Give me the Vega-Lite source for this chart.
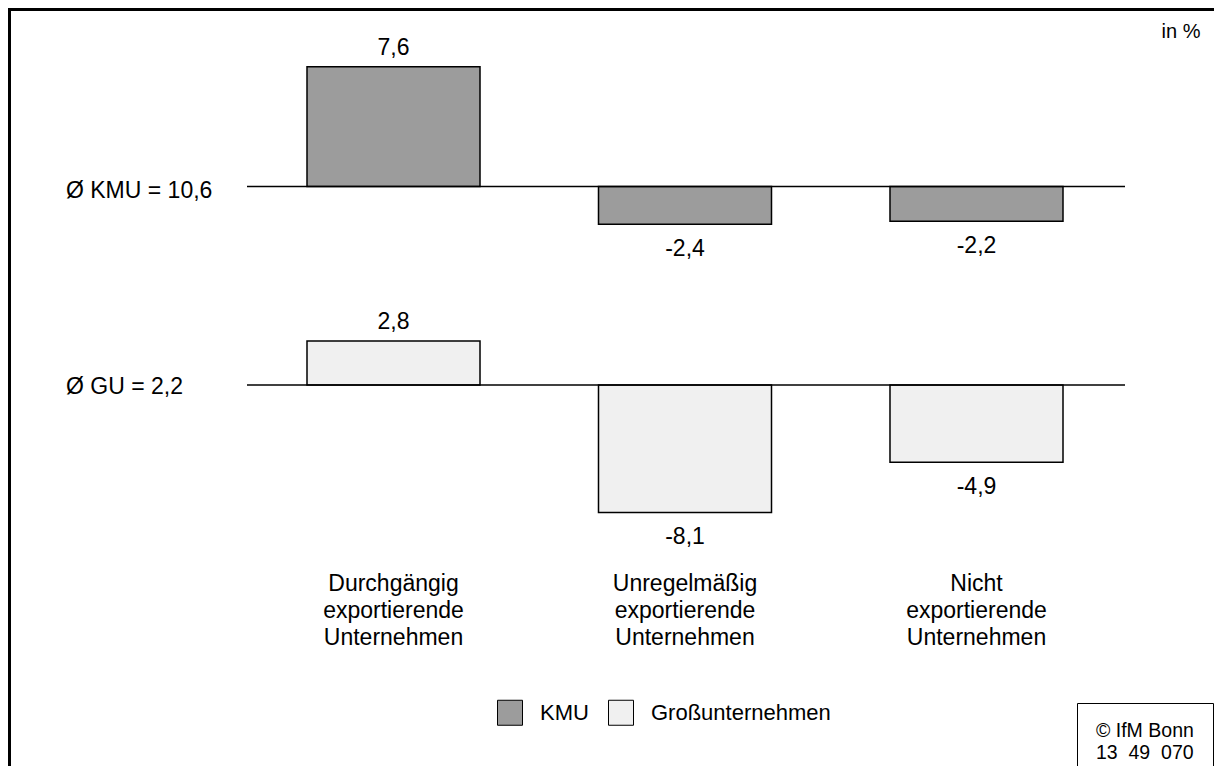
{
  "$schema": "https://vega.github.io/schema/vega-lite/v6.json",
  "width": 1210,
  "height": 760,
  "autosize": "none",
  "padding": {"left": 9.5, "top": 9.5, "right": -5.5, "bottom": -3.5},
  "background": "white",
  "config": {
    "font": "Liberation Sans",
    "view": {"stroke": "black", "strokeWidth": 3},
    "text": {"font": "Liberation Sans", "fontSize": 23, "color": "black"},
    "locale": {
      "number": {"decimal": ",", "thousands": ".", "grouping": [3], "currency": ["", " €"], "minus": "-"}
    }
  },
  "title": {
    "text": "in %",
    "anchor": "end",
    "frame": "group",
    "offset": -48.5,
    "dx": -19,
    "baseline": "alphabetic",
    "fontSize": 20,
    "fontWeight": "normal",
    "font": "Liberation Sans",
    "color": "black"
  },
  "datasets": {
    "bars": [
      {"category": "Durchgängig exportierende Unternehmen", "group": "KMU", "value": 7.6},
      {"category": "Unregelmäßig exportierende Unternehmen", "group": "KMU", "value": -2.4},
      {"category": "Nicht exportierende Unternehmen", "group": "KMU", "value": -2.2},
      {"category": "Durchgängig exportierende Unternehmen", "group": "Großunternehmen", "value": 2.8},
      {"category": "Unregelmäßig exportierende Unternehmen", "group": "Großunternehmen", "value": -8.1},
      {"category": "Nicht exportierende Unternehmen", "group": "Großunternehmen", "value": -4.9}
    ],
    "averages": [
      {"group": "KMU", "label": "Ø KMU = 10,6", "source": "IfM Bonn"},
      {"group": "Großunternehmen", "label": "Ø GU = 2,2", "source": "IfM Bonn"}
    ]
  },
  "encoding": {
    "x": {
      "field": "category",
      "type": "nominal",
      "scale": {
        "type": "band",
        "domain": ["Durchgängig exportierende Unternehmen", "Unregelmäßig exportierende Unternehmen", "Nicht exportierende Unternehmen"],
        "range": [297.5, 1053.5],
        "paddingInner": 0.4065,
        "paddingOuter": 0
      },
      "axis": {
        "orient": "bottom",
        "offset": -205.5,
        "domain": false,
        "ticks": false,
        "grid": false,
        "title": null,
        "labelAngle": 0,
        "labelPadding": 8.5,
        "labelBaseline": "top",
        "labelFont": "Liberation Sans",
        "labelFontSize": 23,
        "labelLineHeight": 27,
        "labelColor": "black",
        "labelLimit": 300,
        "labelExpr": "split(datum.label, ' ')"
      }
    }
  },
  "layer": [
    {
      "layer": [
        {
          "data": {"name": "bars"},
          "transform": [{"filter": "datum.group === 'KMU'"}],
          "mark": {"type": "bar", "stroke": "black", "strokeWidth": 1.5},
          "encoding": {
            "y": {"field": "value", "type": "quantitative", "scale": {"domain": [-37.016, 11.238], "nice": false, "zero": false}, "axis": null},
            "color": {
              "field": "group",
              "type": "nominal",
              "scale": {"domain": ["KMU", "Großunternehmen"], "range": ["#9c9c9c", "#f0f0f0"]},
              "legend": {
                "orient": "none",
                "legendX": 487.5,
                "legendY": 690,
                "direction": "horizontal",
                "title": null,
                "symbolType": "square",
                "symbolSize": 625,
                "symbolStrokeColor": "black",
                "symbolStrokeWidth": 1,
                "labelFont": "Liberation Sans",
                "labelFontSize": 22,
                "labelColor": "black",
                "labelLimit": 300,
                "labelOffset": 17,
                "columnPadding": 17
              }
            }
          }
        },
        {
          "data": {"name": "bars"},
          "transform": [{"filter": "datum.group === 'KMU' && datum.value > 0"}],
          "mark": {"type": "text", "baseline": "alphabetic", "dy": -12},
          "encoding": {
            "y": {"field": "value", "type": "quantitative"},
            "text": {"field": "value", "type": "quantitative", "format": ".1f"}
          }
        },
        {
          "data": {"name": "bars"},
          "transform": [{"filter": "datum.group === 'KMU' && datum.value < 0"}],
          "mark": {"type": "text", "baseline": "alphabetic", "dy": 31.5},
          "encoding": {
            "y": {"field": "value", "type": "quantitative"},
            "text": {"field": "value", "type": "quantitative", "format": ".1f"}
          }
        },
        {
          "data": {"name": "averages"},
          "transform": [{"filter": "datum.group === 'KMU'"}],
          "mark": {"type": "rule", "color": "black", "strokeWidth": 1.5, "xOffset": -60, "x2Offset": 62},
          "encoding": {
            "x": {"datum": "Durchgängig exportierende Unternehmen", "bandPosition": 0},
            "x2": {"datum": "Nicht exportierende Unternehmen", "bandPosition": 1},
            "y": {"datum": 0, "type": "quantitative"},
            "opacity": {
              "field": "source",
              "type": "nominal",
              "scale": {"range": [1, 1]},
              "legend": {
                "orient": "none",
                "legendX": 1067.5,
                "legendY": 693.5,
                "title": ["© IfM Bonn", "13\u00a0 49\u00a0 070"],
                "titleFont": "Liberation Sans",
                "titleFontSize": 19.5,
                "titleFontWeight": "normal",
                "titleColor": "black",
                "titleLineHeight": 22,
                "titlePadding": 2,
                "labelFontSize": 12,
                "labelOpacity": 0,
                "labelOffset": 0,
                "labelExpr": "''",
                "symbolType": "square",
                "symbolSize": 0,
                "symbolStrokeWidth": 0,
                "symbolOpacity": 0,
                "strokeColor": "black",
                "padding": 19
              }
            }
          }
        },
        {
          "data": {"name": "averages"},
          "transform": [{"filter": "datum.group === 'KMU'"}],
          "mark": {"type": "text", "align": "left", "baseline": "middle", "dx": -241, "dy": 5},
          "encoding": {
            "x": {"datum": "Durchgängig exportierende Unternehmen", "bandPosition": 0},
            "y": {"datum": 0, "type": "quantitative"},
            "text": {"field": "label"}
          }
        }
      ]
    },
    {
      "layer": [
        {
          "data": {"name": "bars"},
          "transform": [{"filter": "datum.group === 'Großunternehmen'"}],
          "mark": {"type": "bar", "stroke": "black", "strokeWidth": 1.5},
          "encoding": {
            "y": {"field": "value", "type": "quantitative", "scale": {"domain": [-24.413, 23.841], "nice": false, "zero": false}, "axis": null},
            "color": {"field": "group", "type": "nominal"}
          }
        },
        {
          "data": {"name": "bars"},
          "transform": [{"filter": "datum.group === 'Großunternehmen' && datum.value > 0"}],
          "mark": {"type": "text", "baseline": "alphabetic", "dy": -12},
          "encoding": {
            "y": {"field": "value", "type": "quantitative"},
            "text": {"field": "value", "type": "quantitative", "format": ".1f"}
          }
        },
        {
          "data": {"name": "bars"},
          "transform": [{"filter": "datum.group === 'Großunternehmen' && datum.value < 0"}],
          "mark": {"type": "text", "baseline": "alphabetic", "dy": 31.5},
          "encoding": {
            "y": {"field": "value", "type": "quantitative"},
            "text": {"field": "value", "type": "quantitative", "format": ".1f"}
          }
        },
        {
          "data": {"name": "averages"},
          "transform": [{"filter": "datum.group === 'Großunternehmen'"}],
          "mark": {"type": "rule", "color": "black", "strokeWidth": 1.5, "xOffset": -60, "x2Offset": 62},
          "encoding": {
            "x": {"datum": "Durchgängig exportierende Unternehmen", "bandPosition": 0},
            "x2": {"datum": "Nicht exportierende Unternehmen", "bandPosition": 1},
            "y": {"datum": 0, "type": "quantitative"}
          }
        },
        {
          "data": {"name": "averages"},
          "transform": [{"filter": "datum.group === 'Großunternehmen'"}],
          "mark": {"type": "text", "align": "left", "baseline": "middle", "dx": -241, "dy": 2},
          "encoding": {
            "x": {"datum": "Durchgängig exportierende Unternehmen", "bandPosition": 0},
            "y": {"datum": 0, "type": "quantitative"},
            "text": {"field": "label"}
          }
        }
      ]
    }
  ],
  "resolve": {"scale": {"y": "independent"}}
}
